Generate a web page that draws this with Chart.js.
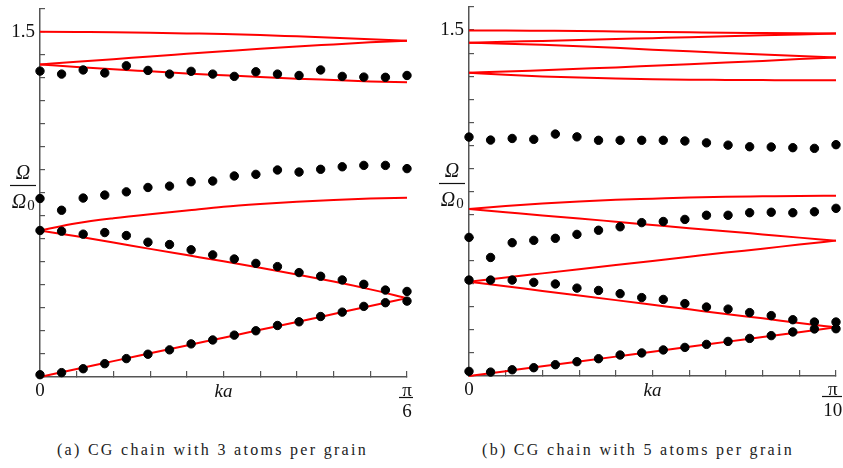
<!DOCTYPE html>
<html>
<head>
<meta charset="utf-8">
<script src="https://cdn.jsdelivr.net/npm/chart.js@4.4.0/dist/chart.umd.min.js"></script>
<style>
  html, body { margin: 0; padding: 0; background: #fff; overflow: hidden; }
  body { width: 843px; height: 468px; position: relative; }
  .box { position: absolute; top: 0; height: 425px; }
  .cap { position: absolute; top: 441px; font-family: "Liberation Serif", "Times New Roman", serif; font-size: 16px; letter-spacing: 2.3px; color: #222; text-align: center; }
</style>
</head>
<body>
<div class="box" style="left:0;width:421px"><canvas id="chartA"></canvas></div>
<div class="box" style="left:429px;width:416px"><canvas id="chartB"></canvas></div>
<div class="cap" style="left:0;width:425px">(a) CG chain with 3 atoms per grain</div>
<div class="cap" style="left:431px;width:414px">(b) CG chain with 5 atoms per grain</div>
<script>
// k positions (tick units, 10 = zone edge)
const kLine = [0, 1, 2, 3, 4, 5, 6, 7, 8, 9, 10];
const kDots = Array.from({length: 18}, (_, i) => i * 10 / 17);

// (a) 3 atoms per grain - red curves
const aRed1 = [0, 0.035, 0.069, 0.103, 0.137, 0.171, 0.205, 0.239, 0.274, 0.309, 0.343];
const aRed2 = [0.637, 0.612, 0.585, 0.557, 0.530, 0.503, 0.475, 0.446, 0.415, 0.381, 0.343];
const aRed3 = [0.637, 0.668, 0.690, 0.708, 0.724, 0.740, 0.752, 0.762, 0.770, 0.776, 0.779];
const aRed4 = [1.359, 1.348, 1.338, 1.329, 1.320, 1.312, 1.304, 1.297, 1.291, 1.285, 1.282];
const aRed5 = [1.359, 1.371, 1.382, 1.394, 1.405, 1.416, 1.427, 1.437, 1.446, 1.455, 1.462];
const aRed6 = [1.501, 1.500, 1.499, 1.497, 1.494, 1.491, 1.487, 1.481, 1.475, 1.469, 1.462];
// (a) dots
const aDot1 = [0.010, 0.019, 0.036, 0.058, 0.080, 0.099, 0.118, 0.144, 0.161, 0.182, 0.201, 0.224, 0.240, 0.263, 0.282, 0.307, 0.323, 0.330];
const aDot2 = [0.637, 0.634, 0.621, 0.628, 0.615, 0.586, 0.576, 0.553, 0.531, 0.513, 0.494, 0.480, 0.454, 0.438, 0.422, 0.403, 0.378, 0.372];
const aDot3 = [0.776, 0.725, 0.778, 0.791, 0.805, 0.824, 0.830, 0.849, 0.852, 0.874, 0.881, 0.900, 0.891, 0.903, 0.914, 0.920, 0.920, 0.906];
const aDot4 = [1.330, 1.317, 1.335, 1.322, 1.353, 1.333, 1.317, 1.329, 1.317, 1.307, 1.327, 1.317, 1.311, 1.335, 1.307, 1.304, 1.303, 1.311];

// (b) 5 atoms per grain - red curves
const bRedA = [1.498, 1.498, 1.497, 1.496, 1.494, 1.492, 1.490, 1.488, 1.487, 1.486, 1.485];
const bRedB = [1.445, 1.449, 1.453, 1.457, 1.461, 1.465, 1.469, 1.473, 1.477, 1.481, 1.485];
const bRedC = [1.445, 1.441, 1.436, 1.430, 1.423, 1.415, 1.408, 1.401, 1.394, 1.388, 1.381];
const bRedD = [1.315, 1.320, 1.326, 1.332, 1.338, 1.345, 1.352, 1.359, 1.366, 1.374, 1.381];
const bRedE = [1.315, 1.306, 1.299, 1.294, 1.290, 1.287, 1.285, 1.284, 1.283, 1.282, 1.282];
const bRedF = [0.724, 0.737, 0.748, 0.757, 0.764, 0.769, 0.774, 0.777, 0.779, 0.781, 0.782];
const bRedG = [0.724, 0.710, 0.696, 0.683, 0.669, 0.655, 0.641, 0.628, 0.614, 0.600, 0.587];
const bRedH = [0.409, 0.427, 0.445, 0.463, 0.481, 0.499, 0.517, 0.535, 0.552, 0.570, 0.587];
const bRedI = [0.409, 0.389, 0.369, 0.349, 0.329, 0.309, 0.289, 0.269, 0.250, 0.230, 0.211];
const bRedJ = [0, 0.021, 0.042, 0.063, 0.084, 0.105, 0.127, 0.148, 0.169, 0.190, 0.211];
// (b) dots
const bDot1 = [0.020, 0.017, 0.027, 0.036, 0.049, 0.062, 0.075, 0.091, 0.100, 0.113, 0.124, 0.137, 0.150, 0.163, 0.175, 0.191, 0.204, 0.205];
const bDot2 = [0.416, 0.416, 0.416, 0.406, 0.399, 0.381, 0.371, 0.357, 0.340, 0.332, 0.314, 0.299, 0.290, 0.275, 0.262, 0.244, 0.234, 0.234];
const bDot3 = [0.601, 0.514, 0.578, 0.588, 0.597, 0.614, 0.632, 0.647, 0.665, 0.670, 0.679, 0.697, 0.697, 0.708, 0.710, 0.708, 0.712, 0.727];
const bDot4 = [1.036, 1.023, 1.030, 1.026, 1.049, 1.037, 1.022, 1.022, 1.022, 1.022, 1.019, 1.011, 1.001, 0.994, 0.993, 0.990, 0.987, 1.003];

const yTicks = {max: 1.6, step: 0.1, label: 1.5};
const SERIF = '"Liberation Serif", "Times New Roman", serif';
const AXIS = '#555';

function pts(xs, ys) { return ys.map((v, i) => ({x: xs[i], y: v})); }

function dots(ys) {
  return {type: 'scatter', data: pts(kDots, ys), backgroundColor: '#000', borderColor: '#000',
    pointRadius: 4.2, pointHoverRadius: 4.2, showLine: false, clip: false};
}
function red(ys) {
  return {type: 'line', data: pts(kLine, ys), borderColor: 'rgb(255,0,0)', borderWidth: 2,
    pointRadius: 0, tension: 0.4, cubicInterpolationMode: 'monotone', fill: false, clip: false};
}

// Omega/Omega0 label and the bar of the pi/n fraction
const fracPlugin = {
  id: 'frac',
  afterDraw(chart, args, o) {
    const {ctx, scales: {x, y}} = chart;
    ctx.save();
    ctx.fillStyle = '#111';
    ctx.strokeStyle = '#111';
    ctx.lineWidth = 1.2;
    const cx = y.right - 17, cy = Math.round(y.getPixelForValue(0.835)) + 0.5;
    ctx.textAlign = 'center';
    ctx.textBaseline = 'middle';
    ctx.font = 'italic 20px ' + SERIF;
    ctx.fillText('Ω', cx, cy - 12);
    ctx.beginPath(); ctx.moveTo(cx - 13, cy); ctx.lineTo(cx + 13, cy); ctx.stroke();
    ctx.fillText('Ω', cx - 4, cy + 17);
    ctx.font = '15px ' + SERIF;
    ctx.fillText('0', cx + 8, cy + 21);
    // fraction bar under pi
    const px = x.getPixelForValue(10) + o.shift, py = Math.round(x.top + 20) + 0.5;
    ctx.beginPath(); ctx.moveTo(px - o.half, py); ctx.lineTo(px + o.half, py); ctx.stroke();
    ctx.restore();
  }
};

function makeChart(id, datasets, edge, pad, xh, frac) {
  return new Chart(document.getElementById(id), {
    data: {datasets: datasets},
    options: {
      responsive: true, maintainAspectRatio: false, animation: false,
      layout: {padding: pad},
      plugins: {legend: {display: false}, tooltip: {enabled: false}, frac: frac},
      scales: {
        x: {
          type: 'linear', min: 0, max: 10,
          afterFit: s => { s.height = xh; s.paddingLeft = 0; s.paddingRight = 0; },
          border: {display: true, color: AXIS, width: 1.5},
          grid: {drawOnChartArea: false, drawTicks: true, tickLength: -6, color: AXIS, lineWidth: 1.2},
          ticks: {
            stepSize: 1, autoSkip: false, maxRotation: 0, padding: 10, color: '#111',
            font: c => ({family: SERIF, size: 19, lineHeight: '21px', style: c.tick && c.tick.value === 5 ? 'italic' : 'normal'}),
            callback: v => v === 0 ? '0' : v === 5 ? 'ka' : v === 10 ? edge : ''
          }
        },
        y: {
          type: 'linear', min: 0, max: yTicks.max,
          afterFit: s => { s.width = 40; s.paddingTop = 0; s.paddingBottom = 0; },
          border: {display: true, color: AXIS, width: 1.5},
          grid: {drawOnChartArea: false, drawTicks: true, tickLength: -5, color: AXIS, lineWidth: 1.2},
          ticks: {
            stepSize: yTicks.step, autoSkip: false, padding: 10, color: '#111',
            font: {family: SERIF, size: 19, lineHeight: 1},
            callback: v => Math.abs(v - yTicks.label) < 1e-6 ? '1.5' : ''
          }
        }
      }
    },
    plugins: [fracPlugin]
  });
}

makeChart('chartA', [
  dots(aDot1), dots(aDot2), dots(aDot3), dots(aDot4),
  red(aRed1), red(aRed2), red(aRed3), red(aRed4), red(aRed5), red(aRed6)
], ['π', '6'], {left: 0, top: 9, right: 14, bottom: 0}, 48, {half: 7, shift: -1});

makeChart('chartB', [
  dots(bDot1), dots(bDot2), dots(bDot3), dots(bDot4),
  red(bRedA), red(bRedB), red(bRedC), red(bRedD), red(bRedE),
  red(bRedF), red(bRedG), red(bRedH), red(bRedI), red(bRedJ)
], ['π\u2004', '10\u2004'], {left: 0, top: 7, right: 9, bottom: 0}, 49, {half: 10, shift: -4});
</script>
</body>
</html>
